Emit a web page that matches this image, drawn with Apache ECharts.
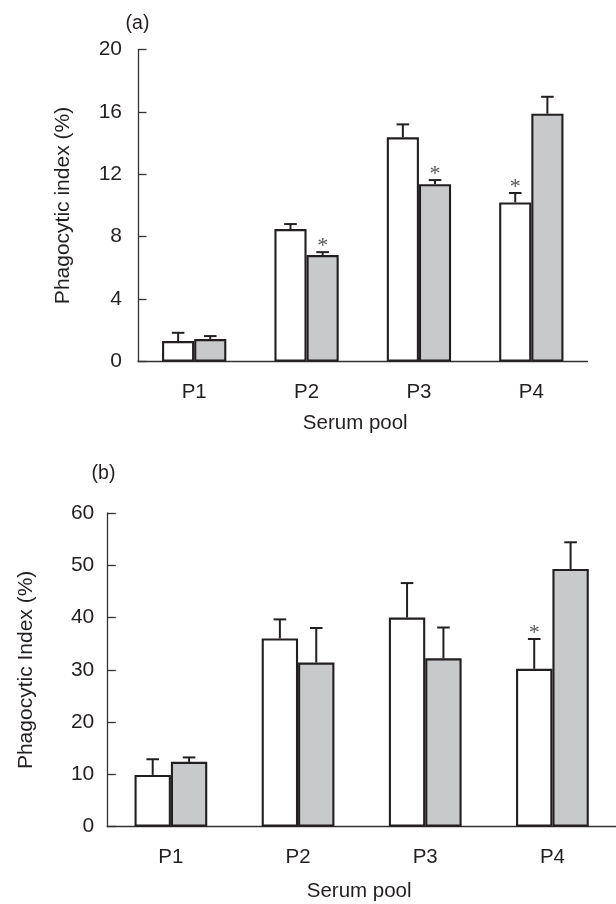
<!DOCTYPE html>
<html>
<head>
<meta charset="utf-8">
<script src="https://cdn.jsdelivr.net/npm/echarts@6/dist/echarts.min.js"></script>
<style>
html,body{margin:0;padding:0;background:#fff;}
#chart{width:616px;height:904px;}
</style>
</head>
<body>
<div id="chart"></div>
<script>
// ---- Data ----
const categories = ['P1', 'P2', 'P3', 'P4'];

// Panel (a)
const aWhite = [1.31, 8.49, 14.37, 10.2];
const aWhiteErr = [0.53, 0.32, 0.83, 0.6];
const aGrey = [1.44, 6.82, 11.37, 15.88];
const aGreyErr = [0.19, 0.19, 0.26, 1.09];
const aWhiteStar = [0, 0, 0, 1];
const aGreyStar = [0, 1, 1, 0];
const aTicks = [0, 4, 8, 12, 16, 20];

// Panel (b)
const bWhite = [9.9, 36.0, 40.0, 30.2];
const bWhiteErr = [3.0, 3.65, 6.6, 5.7];
const bGrey = [12.4, 31.4, 32.2, 49.3];
const bGreyErr = [0.85, 6.6, 5.9, 5.1];
const bWhiteStar = [0, 0, 0, 1];
const bGreyStar = [0, 0, 0, 0];
const bTicks = [0, 10, 20, 30, 40, 50, 60];

const FONT = 'Liberation Sans';
const TXT = '#231f20';
const GREY = '#c8c9cb';
const EDGE = '#231f20';
const BAR_FRAC = 0.286;

function errSeries(vals, errs, stars, side, gi) {
  return {
    type: 'custom',
    xAxisIndex: gi, yAxisIndex: gi,
    z: 5,
    data: vals.map((v, i) => [i, v, errs[i], stars[i]]),
    renderItem: function (params, api) {
      const i = api.value(0), m = api.value(1), e = api.value(2), s = api.value(3);
      const band = api.size([1, 0])[0];
      const base = api.coord([i, m]);
      const top = api.coord([i, m + e]);
      const x = base[0] + side * band * BAR_FRAC / 2;
      const cap = 6.3;
      const children = [
        { type: 'line', shape: { x1: x, y1: base[1], x2: x, y2: top[1] }, style: { stroke: EDGE, lineWidth: 2 } },
        { type: 'line', shape: { x1: x - cap, y1: top[1], x2: x + cap, y2: top[1] }, style: { stroke: EDGE, lineWidth: 2 } }
      ];
      if (s) {
        children.push({ type: 'text', x: x, y: top[1] - 5.5,
          style: { text: '*', fill: '#555', font: '22px "Liberation Serif"', align: 'center', verticalAlign: 'middle' } });
      }
      return { type: 'group', children: children };
    }
  };
}

function barSeries(vals, color, gi) {
  return {
    type: 'bar',
    xAxisIndex: gi, yAxisIndex: gi,
    data: vals,
    barWidth: (BAR_FRAC * 100) + '%',
    barGap: '0%',
    itemStyle: { color: color, borderColor: EDGE, borderWidth: 2.1 },
    emphasis: { disabled: true },
    silent: true
  };
}

function xAxisCfg(gi, nameGap, pad) {
  return {
    type: 'category', gridIndex: gi, data: categories,
    name: 'Serum pool', nameLocation: 'middle', nameGap: nameGap,
    nameTextStyle: { fontFamily: FONT, fontSize: 20.5, color: TXT, padding: pad },
    axisLine: { lineStyle: { color: '#333', width: 1.3 } },
    axisTick: { inside: true, length: 8, lineStyle: { color: '#333', width: 1.3 } },
    axisLabel: { fontFamily: FONT, fontSize: 20.5, color: TXT, margin: 20 },
    splitLine: { show: false }
  };
}

function yAxisCfg(gi, max, interval, name, nameGap, margin) {
  return {
    type: 'value', gridIndex: gi, min: 0, max: max, interval: interval,
    name: name, nameLocation: 'middle', nameGap: nameGap,
    nameTextStyle: { fontFamily: FONT, fontSize: 21, color: TXT },
    axisLine: { show: true, lineStyle: { color: '#333', width: 1.3 } },
    axisTick: { show: true, inside: true, length: 8.5, lineStyle: { color: '#333', width: 1.3 } },
    axisLabel: { fontFamily: FONT, fontSize: 21, color: TXT, margin: margin },
    splitLine: { show: false }
  };
}

const chart = echarts.init(document.getElementById('chart'), null, { renderer: 'canvas' });
chart.setOption({
  animation: false,
  backgroundColor: '#fff',
  grid: [
    { left: 138, top: 49.5, width: 449.5, height: 312 },
    { left: 107.3, top: 513, width: 512.8, height: 313.7 }
  ],
  xAxis: [xAxisCfg(0, 51, [0, 15, 0, 0]), xAxisCfg(1, 54, [0, 5, 0, 0])],
  yAxis: [
    yAxisCfg(0, aTicks[aTicks.length - 1], aTicks[1] - aTicks[0], 'Phagocytic index (%)', 64, 16),
    yAxisCfg(1, bTicks[bTicks.length - 1], bTicks[1] - bTicks[0], 'Phagocytic Index (%)', 71, 13)
  ],
  graphic: [
    { type: 'text', x: 137.5, y: 23.4, style: { text: '(a)', font: '19.5px "Liberation Sans"', fill: TXT, align: 'center', verticalAlign: 'middle' } },
    { type: 'text', x: 103.5, y: 473.3, style: { text: '(b)', font: '19.5px "Liberation Sans"', fill: TXT, align: 'center', verticalAlign: 'middle' } }
  ],
  series: [
    barSeries(aWhite, '#ffffff', 0),
    barSeries(aGrey, GREY, 0),
    errSeries(aWhite, aWhiteErr, aWhiteStar, -1, 0),
    errSeries(aGrey, aGreyErr, aGreyStar, 1, 0),
    barSeries(bWhite, '#ffffff', 1),
    barSeries(bGrey, GREY, 1),
    errSeries(bWhite, bWhiteErr, bWhiteStar, -1, 1),
    errSeries(bGrey, bGreyErr, bGreyStar, 1, 1)
  ]
});
</script>
</body>
</html>
